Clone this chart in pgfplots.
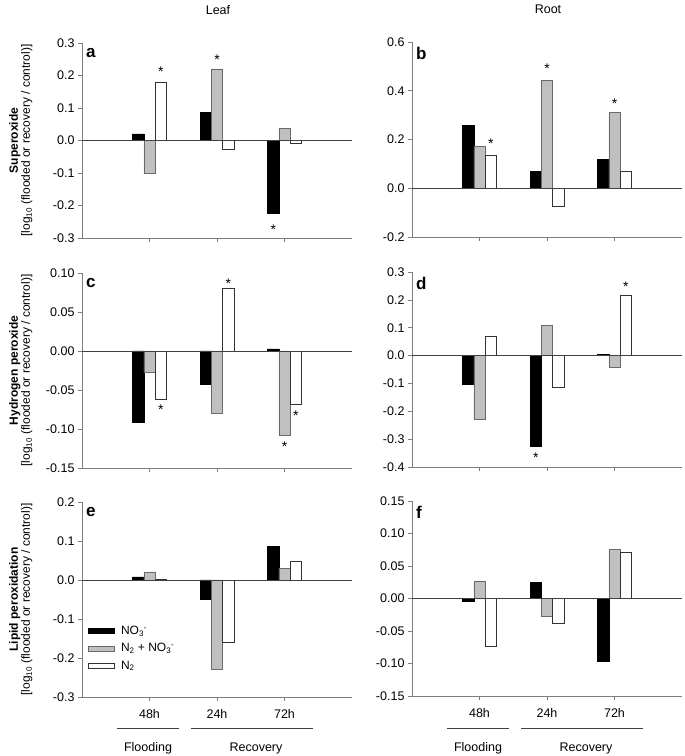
\documentclass[border=0pt]{standalone}
\usepackage{fontspec}
\setmainfont{Liberation Sans}
\usepackage{pgfplots}
\pgfplotsset{compat=1.18}

\definecolor{bargray}{RGB}{192,192,192}
\definecolor{edgegray}{RGB}{105,105,105}
\definecolor{axgray}{RGB}{125,125,125}

% star above / below a bar: x, value, gap (pt)
\newcommand{\starU}[3]{\node[anchor=base,inner sep=0pt,yshift=#3pt-6.2pt,font=\fontsize{14}{14}\selectfont] at (axis cs:#1,#2) {*};}
\newcommand{\starD}[3]{\node[anchor=base,inner sep=0pt,yshift=-#3pt-10.2pt,font=\fontsize{14}{14}\selectfont] at (axis cs:#1,#2) {*};}

\pgfplotsset{
  panel/.style={
    scale only axis, width=270pt, height=195pt,
    xmin=-1, xmax=3, clip=false,
    axis x line*=bottom, axis y line*=left,
    axis line style={axgray, line width=0.6pt},
    xtick={0,1,2}, xticklabels={},
    tick align=outside, major tick length=4pt,
    tick style={axgray, line width=0.6pt},
    tick label style={font=\fontsize{12.5}{14}\selectfont},
    xticklabel style={yshift=-5pt},
    yticklabel style={/pgf/number format/fixed, /pgf/number format/fixed zerofill,
      /pgf/number format/precision=1, /pgf/number format/assume math mode=true},
    ylabel style={align=center, at={(axis description cs:0,0.5)}, anchor=south, yshift=46pt},
    legend image code/.code={\draw[#1] (0pt,-2.5pt) rectangle (26pt,2.5pt);},
  },
  two/.style={yticklabel style={/pgf/number format/precision=2}},
  blk/.style={ybar, bar width=0.1667, bar shift=-0.1667, fill=black, draw=black},
  gry/.style={ybar, bar width=0.1667, bar shift=0, fill=bargray, draw=edgegray},
  wht/.style={ybar, bar width=0.1667, bar shift=0.1667, fill=white, draw=black!80},
}
\newcommand{\zeroline}{\draw[black!75, line width=0.6pt] (axis cs:-1,0) -- (axis cs:3,0);}
\newcommand{\panel}[1]{\node[anchor=north west, inner sep=0pt, font=\bfseries\fontsize{17}{17}\selectfont] at ([xshift=4pt,yshift=-5pt]rel axis cs:0,1) {#1};}
\newcommand{\ylab}[1]{\textbf{\fontsize{12}{14}\selectfont #1}\\{\fontsize{12}{14}\selectfont {[}log\textsubscript{10} (flooded or recovery / control){]}}}

\begin{document}
\begin{tikzpicture}
\useasboundingbox (0,0) rectangle (685pt,756pt);

\node[font=\fontsize{12.5}{14}\selectfont] at (218pt,746pt) {Leaf};
\node[font=\fontsize{12.5}{14}\selectfont] at (548pt,747pt) {Root};

% ---- a: leaf superoxide
\begin{axis}[panel, at={(82pt,518pt)}, anchor=south west,
  ymin=-0.3, ymax=0.3, ytick={-0.3,-0.2,-0.1,0,0.1,0.2,0.3},
  ylabel={\ylab{Superoxide}}]
\addplot[blk] coordinates {(0,0.020) (1,0.087) (2,-0.224)};
\addplot[gry] coordinates {(0,-0.100) (1,0.220) (2,0.038)};
\addplot[wht] coordinates {(0,0.180) (1,-0.027) (2,-0.008)};
\zeroline
\panel{a}
\starU{0.1667}{0.180}{12}
\starU{1}{0.220}{11}
\starD{1.8333}{-0.224}{11}
\end{axis}

% ---- b: root superoxide
\begin{axis}[panel, at={(412pt,519pt)}, anchor=south west,
  ymin=-0.2, ymax=0.6, ytick={-0.2,0,0.2,0.4,0.6}]
\addplot[blk] coordinates {(0,0.259) (1,0.070) (2,0.118)};
\addplot[gry] coordinates {(0,0.172) (1,0.442) (2,0.310)};
\addplot[wht] coordinates {(0,0.134) (1,-0.072) (2,0.070)};
\zeroline
\panel{b}
\starU{0.1667}{0.134}{13}
\starU{1}{0.442}{13}
\starU{2}{0.310}{10}
\end{axis}

% ---- c: leaf hydrogen peroxide
\begin{axis}[panel, two, at={(82pt,288pt)}, anchor=south west,
  ymin=-0.15, ymax=0.10, ytick={-0.15,-0.10,-0.05,0,0.05,0.10},
  ylabel={\ylab{Hydrogen peroxide}}]
\addplot[blk] coordinates {(0,-0.091) (1,-0.042) (2,0.0026)};
\addplot[gry] coordinates {(0,-0.027) (1,-0.0795) (2,-0.1085)};
\addplot[wht] coordinates {(0,-0.0615) (1,0.080) (2,-0.068)};
\zeroline
\panel{c}
\starD{0.1667}{-0.0615}{5}
\starU{1.1667}{0.080}{6}
\starD{2}{-0.1085}{6}
\starD{2.1667}{-0.068}{6}
\end{axis}

% ---- d: root hydrogen peroxide
\begin{axis}[panel, at={(412pt,289pt)}, anchor=south west,
  ymin=-0.4, ymax=0.3, ytick={-0.4,-0.3,-0.2,-0.1,0,0.1,0.2,0.3}]
\addplot[blk] coordinates {(0,-0.103) (1,-0.325) (2,0.004)};
\addplot[gry] coordinates {(0,-0.227) (1,0.108) (2,-0.042)};
\addplot[wht] coordinates {(0,0.0706) (1,-0.114) (2,0.215)};
\zeroline
\panel{d}
\starD{0.8333}{-0.325}{6}
\starU{2.1667}{0.215}{10}
\end{axis}

% ---- e: leaf lipid peroxidation
\begin{axis}[panel, at={(82pt,59pt)}, anchor=south west,
  ymin=-0.3, ymax=0.2, ytick={-0.3,-0.2,-0.1,0,0.1,0.2},
  xticklabels={48h,24h,72h},
  ylabel={\ylab{Lipid peroxidation}},
  legend style={at={(axis description cs:0.02,0.375)}, anchor=north west,
    draw=none, fill=none, inner sep=0pt, row sep=3.5pt, column sep=5pt,
    font=\fontsize{12}{14}\selectfont, cells={anchor=west}}]
\addplot[blk] coordinates {(0,0.008) (1,-0.050) (2,0.087)};
\addlegendentry{NO\textsubscript{3}\textsuperscript{-}}
\addplot[gry] coordinates {(0,0.021) (1,-0.229) (2,0.030)};
\addlegendentry{N\textsubscript{2} + NO\textsubscript{3}\textsuperscript{-}}
\addplot[wht] coordinates {(0,0.003) (1,-0.159) (2,0.049)};
\addlegendentry{N\textsubscript{2}}
\zeroline
\panel{e}
\end{axis}

% ---- f: root lipid peroxidation
\begin{axis}[panel, two, at={(412pt,60pt)}, anchor=south west,
  ymin=-0.15, ymax=0.15, ytick={-0.15,-0.10,-0.05,0,0.05,0.10,0.15},
  xticklabels={48h,24h,72h}]
\addplot[blk] coordinates {(0,-0.0036) (1,0.025) (2,-0.097)};
\addplot[gry] coordinates {(0,0.026) (1,-0.027) (2,0.0757)};
\addplot[wht] coordinates {(0,-0.0727) (1,-0.038) (2,0.0706)};
\zeroline
\panel{f}
\end{axis}

% group brackets under the bottom panels
\foreach \x in {82,412} {
  \draw[black!75, line width=0.9pt] (\x pt+35pt,28pt) -- (\x pt+97pt,28pt);
  \draw[black!75, line width=0.9pt] (\x pt+109pt,28pt) -- (\x pt+231pt,28pt);
  \node[font=\fontsize{12.5}{14}\selectfont] at (\x pt+66pt,8pt) {Flooding};
  \node[font=\fontsize{12.5}{14}\selectfont] at (\x pt+174pt,8pt) {Recovery};
}
\end{tikzpicture}
\end{document}
